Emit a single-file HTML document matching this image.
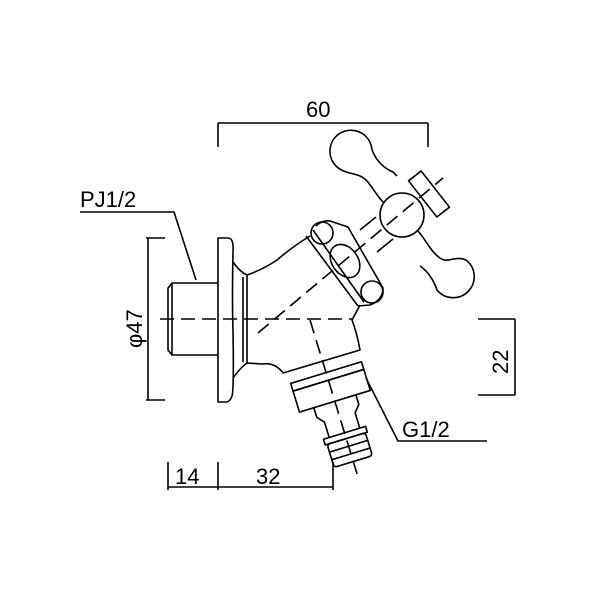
<!DOCTYPE html>
<html><head><style>body{margin:0;background:#fff}svg{display:block}text{font-family:"Liberation Sans",sans-serif;fill:#000}</style></head>
<body>
<svg width="600" height="600" viewBox="0 0 600 600" xmlns="http://www.w3.org/2000/svg">
<g fill="none" stroke="#000" stroke-width="1.6" stroke-linejoin="round">
<line x1="218" y1="123" x2="428" y2="123"/>
<line x1="218" y1="123" x2="218" y2="147"/>
<line x1="428" y1="123" x2="428" y2="147"/>
<polyline points="80,212 174,212 196,280"/>
<line x1="148" y1="238" x2="148" y2="400"/>
<line x1="146" y1="238" x2="165" y2="238"/>
<line x1="146" y1="400" x2="165" y2="400"/>
<line x1="515" y1="319" x2="515" y2="395"/>
<line x1="478" y1="319" x2="515" y2="319"/>
<line x1="478" y1="395" x2="515" y2="395"/>
<line x1="168" y1="487" x2="333" y2="487"/>
<line x1="168" y1="462" x2="168" y2="490"/>
<line x1="218" y1="462" x2="218" y2="490"/>
<line x1="333" y1="462" x2="333" y2="490"/>
<polyline points="487,441 398,441 366,378"/>
<path d="M218,283 H172 L168,288 V350 L172,355 H218"/>
<line x1="172" y1="283" x2="172" y2="355"/>
<path d="M218,238 H228 Q234,238 233,252 Q232,300 233,330 Q234,390 232,396 Q230,402 226,402 H218 Z"/>
<path d="M233,262 Q240,272 247,275 V363 Q240,368 233,378"/>
<line x1="243" y1="277" x2="243" y2="362"/>
<path d="M247,275 Q262,270 277,260 Q292,247 310,236"/>
<path d="M360,305 L352,320 Q357,333 360,350 L283,373 Q275,362 262,364 L247,363"/>
<path d="M306,236 L358,306 M313,230 L364,302 M316,226 Q322,220 330,221 L348,227 L383,288 Q383,300 370,305 L358,306"/>
<circle cx="322" cy="233" r="11"/>
<circle cx="372" cy="292" r="11"/>
<ellipse cx="345" cy="261" rx="13" ry="18" transform="rotate(-35 345 261)"/>
<path d="M360,230 L376,217 M377,252 L393,239"/>
<circle cx="402" cy="215" r="22"/>
<path d="M384,203 C376,195 372,186 366,180 C358,172 345,175 336,166 A21,21 0 1 1 371,145 C373,158 383,168 393,172 L397,176"/>
<path d="M418,231 C426,240 431,252 440,258 C448,264 455,255 466,260 A21,21 0 1 1 437,290 C433,278 426,270 420,266"/>
<rect x="406" y="186" width="46" height="16" transform="rotate(52 429 194)"/>
<g transform="translate(310,320) rotate(-17)">
<rect x="-37" y="55" width="74" height="8"/>
<rect x="-37" y="63" width="74" height="22"/>
<path d="M-22,85 V95 L-16,102 V118 M22,85 V95 L16,102 V118"/>
<rect x="-22" y="118" width="44" height="6"/>
<rect x="-20" y="124" width="40" height="24" rx="3"/>
<line x1="-20" y1="132" x2="20" y2="132"/>
<line x1="-20" y1="140" x2="20" y2="140"/>
<line x1="0" y1="0" x2="0" y2="165" stroke-dasharray="14,7"/>
</g>
<line x1="160" y1="319" x2="352" y2="319" stroke-dasharray="14,7"/>
<line x1="258" y1="333" x2="443" y2="178" stroke-dasharray="14,7"/>
</g>
<text x="306" y="117" font-size="22">60</text>
<text x="80" y="207" font-size="22">PJ1/2</text>
<text x="402" y="437" font-size="22">G1/2</text>
<text x="175" y="484" font-size="22">14</text>
<text x="256" y="484" font-size="22">32</text>
<text transform="translate(142,348) rotate(-90)" font-size="22">φ47</text>
<text transform="translate(508,374) rotate(-90)" font-size="22">22</text>
</svg>
</body></html>
